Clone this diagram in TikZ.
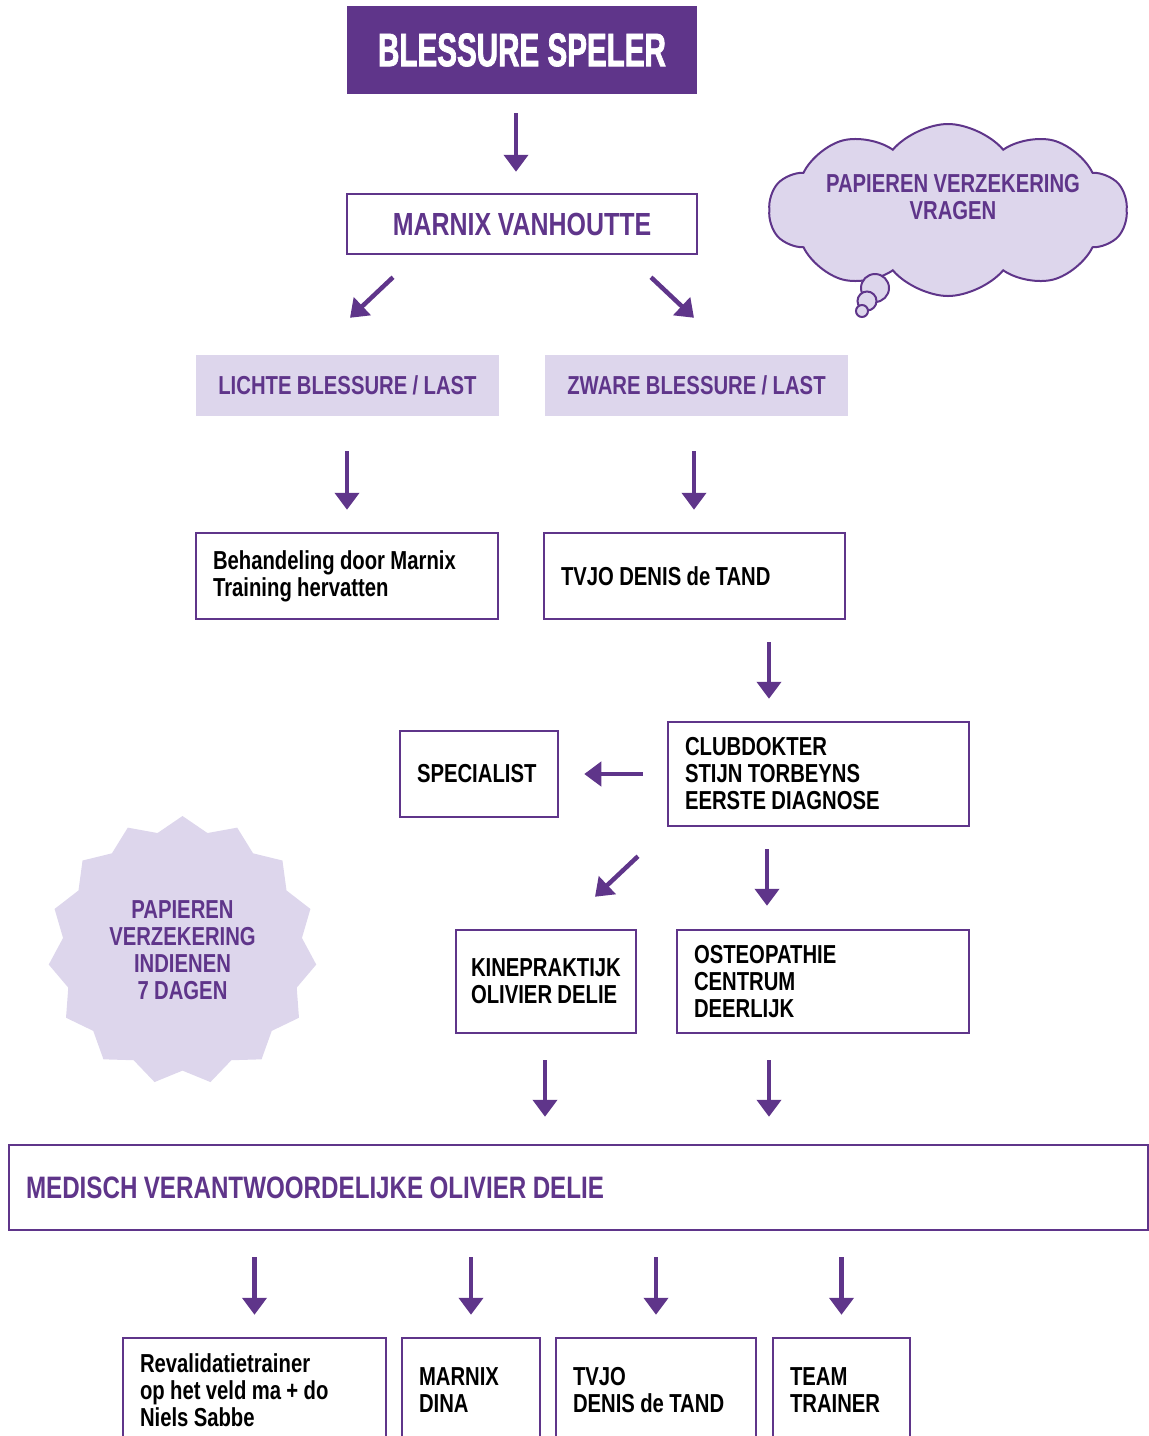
\documentclass[tikz,border=0pt]{standalone}
\usepackage{fontspec}
\setmainfont[FakeStretch=0.78,WordSpace=0.95]{Liberation Sans}
\newfontfamily\heavyfont[FakeStretch=0.63,FakeBold=1.5]{Liberation Sans Bold}
\usepackage{tikz}
\usetikzlibrary{positioning, calc, arrows.meta, shapes.geometric, shapes.symbols}
\definecolor{vpurple}{RGB}{95,53,138}
\definecolor{vlila}{RGB}{221,214,236}
\tikzset{
  box/.style={draw=vpurple, line width=2.5pt, inner xsep=17pt, inner ysep=0pt, align=flush left,
    execute at begin node={\spaceskip=0pt\xspaceskip=0pt}, font=\bfseries\fontsize{26}{27}\selectfont},
  lila/.style={fill=vlila, text=vpurple, inner sep=0pt, align=center, font=\bfseries\fontsize{26}{27}\selectfont},
  arr/.style={draw=vpurple, line width=4.5pt, -{Triangle[width=24pt,length=17pt]}},
}

\begin{document}
\begin{tikzpicture}[x=1pt,y=-1pt]
      \useasboundingbox (0,0) rectangle (1149,1436);

      \node[fill=vpurple, text=white, minimum width=350pt, minimum height=88pt, font=\heavyfont\fontsize{47}{47}\selectfont] (BL0) at (522,50) {BLESSURE SPELER};
      \node[box, text=vpurple, align=center, minimum width=350pt, minimum height=60pt, font=\bfseries\fontsize{32}{32}\selectfont] (BL1) at (522,224) {MARNIX VANHOUTTE};

      \node[lila, minimum width=303pt, minimum height=61pt] (BL2) at (347.5,385.5) {LICHTE BLESSURE / LAST};
      \node[lila, minimum width=303pt, minimum height=61pt] (BL3) at (696.5,385.5) {ZWARE BLESSURE / LAST};

      \node[box, text width=268pt, minimum height=86pt] (BL4) at (347,576) {Behandeling door Marnix\\Training hervatten};
      \node[box, text width=267pt, minimum height=86pt] (BL5) at (694.5,576) {TVJO DENIS de TAND};

      \node[box, text width=124pt, minimum height=86pt] (BL6) at (479,774) {SPECIALIST};
      \node[box, text width=267pt, minimum height=104pt] (BL7) at (818.5,774) {CLUBDOKTER\\STIJN TORBEYNS\\EERSTE DIAGNOSE};

      \node[box, text width=150pt, inner xsep=15pt, minimum height=103pt] (BL8) at (546,981.5) {KINEPRAKTIJK\\OLIVIER DELIE};
      \node[box, text width=258pt, minimum height=103pt] (BL9) at (823,981.5) {OSTEOPATHIE\\CENTRUM\\DEERLIJK};

      \node[box, text=vpurple, text width=1105pt, minimum height=85pt, font=\bfseries\fontsize{31}{31}\selectfont] (BL10) at (578.5,1187.5) {MEDISCH VERANTWOORDELIJKE OLIVIER DELIE};

      \node[box, text width=229pt, minimum height=105pt] (BL11) at (254.5,1390.5) {Revalidatietrainer\\op het veld ma + do\\Niels Sabbe};
      \node[box, text width=104pt, minimum height=105pt] (BL12) at (471,1390.5) {MARNIX\\DINA};
      \node[box, text width=166pt, minimum height=105pt] (BL13) at (656,1390.5) {TVJO\\DENIS de TAND};
      \node[box, text width=103pt, minimum height=105pt] (BL14) at (841.5,1390.5) {TEAM\\TRAINER};

      % wolk en ster
      \node[lila, star, star points=15, star point ratio=1.12, minimum size=269pt] (BL15) at (182.5,950.5) {PAPIEREN\\VERZEKERING\\INDIENEN\\7 DAGEN};
      \node[cloud, cloud puffs=10, cloud puff arc=100, aspect=2.06, minimum width=358pt, minimum height=172pt, draw=vpurple, fill=vlila, line width=2pt] (BL16) at (948,210) {};
      \node[lila, fill=none] (BL17) at (953,197) {PAPIEREN VERZEKERING\\VRAGEN};
      \node[circle, draw=vpurple, fill=vlila, line width=2pt, minimum size=28pt, inner sep=0pt] (BL18) at (875,288) {};
      \node[circle, draw=vpurple, fill=vlila, line width=2pt, minimum size=19pt, inner sep=0pt] (BL19) at (867,301) {};
      \node[circle, draw=vpurple, fill=vlila, line width=2pt, minimum size=12pt, inner sep=0pt] (BL20) at (862,311) {};

      \draw[arr] ([xshift=-6pt,yshift=-19pt]BL0.south) -- ([xshift=-6pt,yshift=21pt]BL1.north);
      \draw[arr] ([xshift=-129pt,yshift=-22pt]BL1.south) -- ([xshift=2.5pt,yshift=37pt]BL2.north);
      \draw[arr] ([xshift=129pt,yshift=-22pt]BL1.south) -- ([xshift=-2.5pt,yshift=37pt]BL3.north);
      \draw[arr] ([xshift=-0.5pt,yshift=-35pt]BL2.south) -- ([yshift=22pt]BL4.north);
      \draw[arr] ([xshift=-2.5pt,yshift=-35pt]BL3.south) -- ([xshift=-0.5pt,yshift=22pt]BL5.north);
      \draw[arr] ([xshift=74.5pt,yshift=-22pt]BL5.south) -- ([xshift=-49.5pt,yshift=22pt]BL7.north);
      \draw[arr] ([xshift=-24pt]BL7.west) -- ([xshift=25pt]BL6.east);
      \draw[arr] ([xshift=-180.5pt,yshift=-29pt]BL7.south) -- ([xshift=49pt,yshift=32pt]BL8.north);
      \draw[arr] ([xshift=-51.5pt,yshift=-22pt]BL7.south) -- ([xshift=-56pt,yshift=23pt]BL9.north);
      \draw[arr] ([xshift=-1pt,yshift=-26pt]BL8.south) -- ([xshift=-33.5pt,yshift=27pt]BL10.north);
      \draw[arr] ([xshift=-54pt,yshift=-26pt]BL9.south) -- ([xshift=190.5pt,yshift=27pt]BL10.north);
      \foreach \n in {11,...,14}
        \draw[arr] (BL10.south -| BL\n.north) ++(0,26) -- ([yshift=22pt]BL\n.north);
    \end{tikzpicture}
\end{document}
